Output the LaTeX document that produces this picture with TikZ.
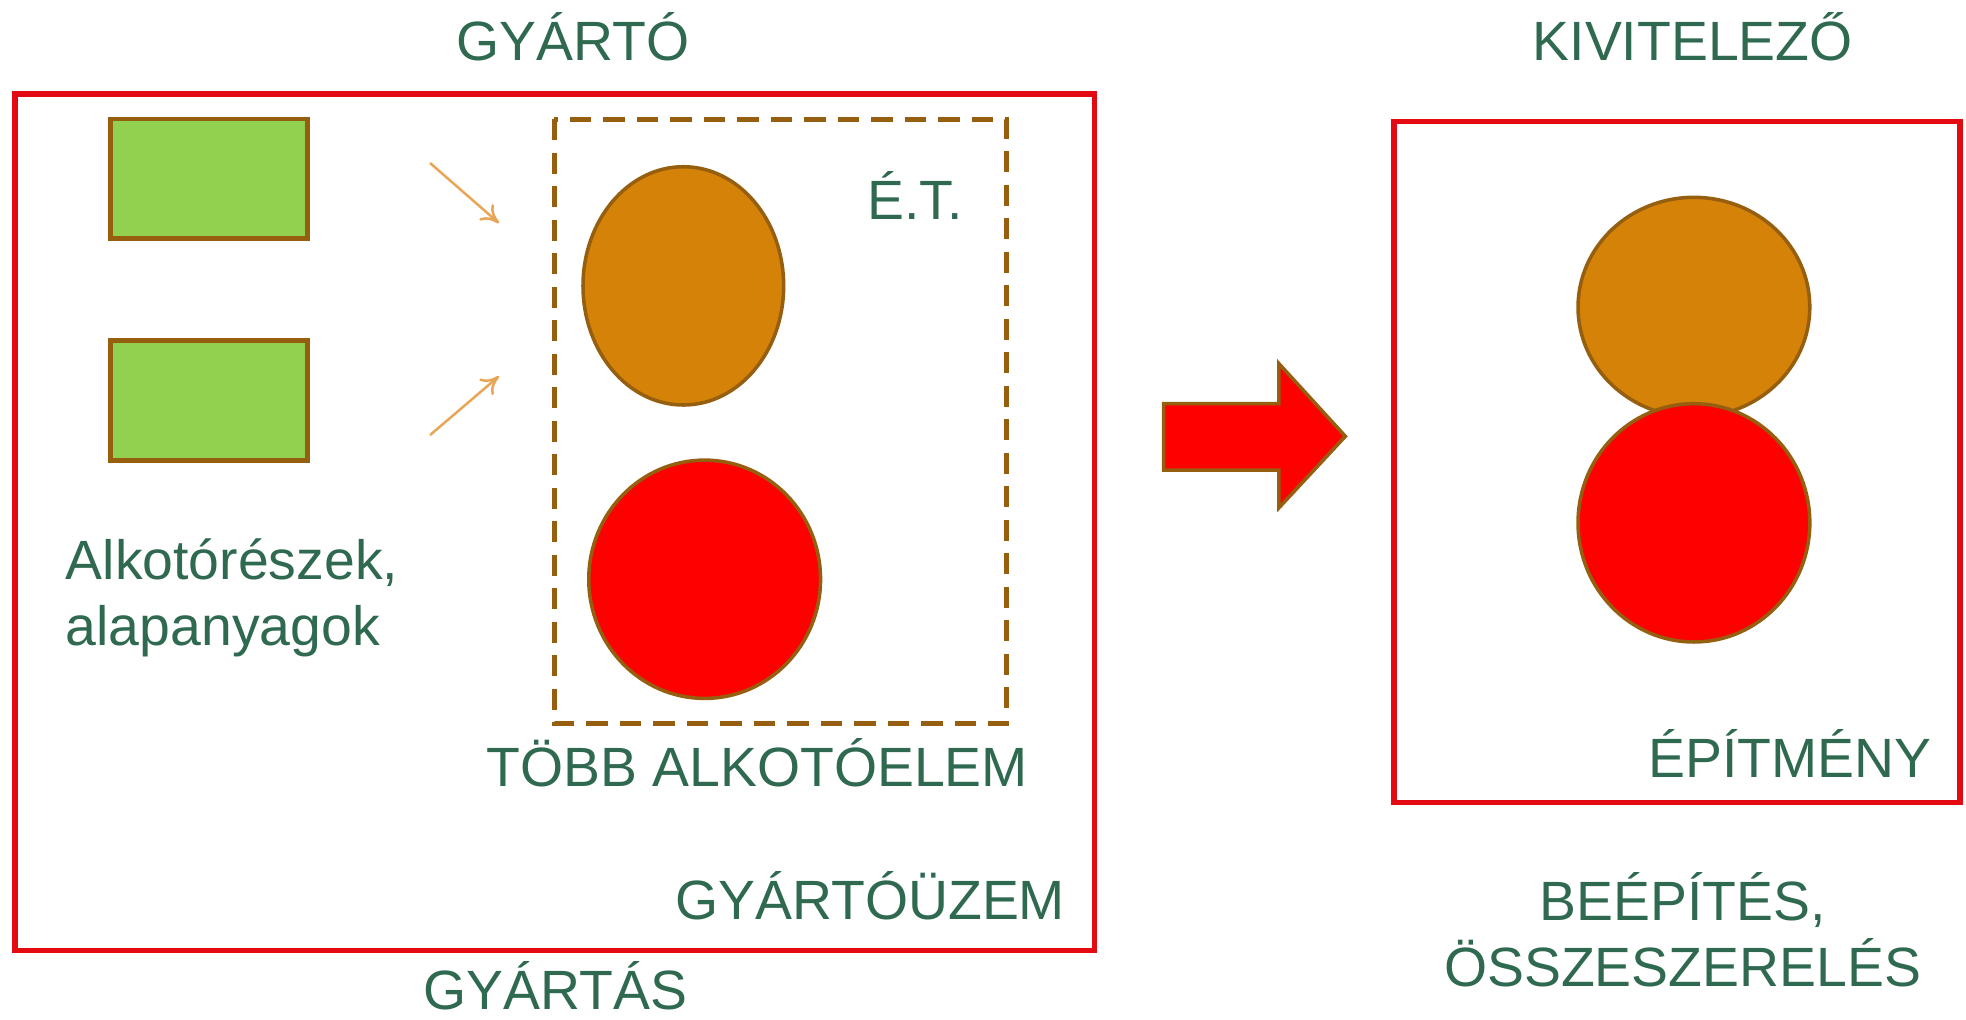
\documentclass[tikz,border=0pt]{standalone}
\usepackage{fontspec}
\setmainfont{Liberation Sans}
\usetikzlibrary{shapes.geometric,arrows.meta}

\definecolor{keret}{RGB}{228,10,18}
\definecolor{barna}{RGB}{150,95,15}
\definecolor{fuzold}{RGB}{146,208,80}
\definecolor{narancs}{RGB}{212,130,8}
\definecolor{piros}{RGB}{255,0,0}
\definecolor{szoveg}{RGB}{47,105,80}
\definecolor{vekony}{RGB}{232,165,85}

\begin{document}
\begin{tikzpicture}[x=0.0125cm,y=-0.0125cm,
  felirat/.style={text=szoveg,font=\fontsize{15.7}{18.8}\selectfont,inner sep=0pt},
  doboz/.style={draw=keret,line width=1.6pt},
  alkresz/.style={draw=barna,fill=fuzold,line width=1.4pt,inner sep=0pt,
    minimum width=1.96cm,minimum height=1.19cm},
  elem/.style={ellipse,draw=barna,line width=1pt,inner sep=0pt},
  nyil/.style={vekony,line width=0.7pt,-{To[length=5pt,width=6pt]}}]
      \useasboundingbox (0,0) rectangle (1568,813);
      % gyartas
      \draw[doboz] (12,75) rectangle (873,758);
      \node[alkresz] (alk1) at (166.5,142.5) {};
      \node[alkresz] (alk2) at (166.5,319.5) {};
      \coordinate (be1) at (343,130); \coordinate (be1v) at (398,178);
      \coordinate (be2) at (343,347); \coordinate (be2v) at (398,300);
      \draw[nyil] (be1) -- (be1v);
      \draw[nyil] (be2) -- (be2v);
      \draw[barna,line width=1.4pt,dash pattern=on 6pt off 3.5pt] (442,95) rectangle (803,577);
      \node[elem,fill=narancs,minimum width=2cm,minimum height=2.375cm] (et1) at (545,228) {};
      \node[elem,fill=piros,minimum width=2.31cm,minimum height=2.375cm] (et2) at (562,462) {};
      \node[felirat,anchor=base] (et) at (730,175) {É.T.};
      \node[felirat,anchor=north west,align=left] (alkotoreszek) at (52,429) {Alkotórészek,\\alapanyagok};
      \node[felirat,anchor=base] (tobb) at (604,627) {TÖBB ALKOTÓELEM};
      \node[felirat,anchor=base east] (uzem) at (850,733) {GYÁRTÓÜZEM};
      \node[felirat,anchor=base] (gyarto) at (457,48) {GYÁRTÓ};
      \node[felirat,anchor=base] (gyartas) at (443,805) {GYÁRTÁS};
      % nagy nyil
      \draw[barna,fill=piros,line width=1pt,line join=miter] (928,322) -- (1020,322) -- (1020,290)
        -- (1073,348) -- (1020,405) -- (1020,375) -- (928,375) -- cycle;
      % kivitelezes
      \draw[doboz] (1112,97) rectangle (1563,640);
      \node[elem,fill=narancs,minimum width=2.31cm,minimum height=2.19cm] (ep1) at (1351,245) {};
      \node[elem,fill=piros,minimum width=2.31cm,minimum height=2.375cm] (ep2) at (1351,417) {};
      \node[felirat,anchor=base east] (epitmeny) at (1541,620) {ÉPÍTMÉNY};
      \node[felirat,anchor=base] (kivitelezo) at (1350,48) {KIVITELEZŐ};
      \node[felirat,anchor=north,align=center] (beepites) at (1342,695) {BEÉPÍTÉS,\\ÖSSZESZERELÉS};
    \end{tikzpicture}
\end{document}
